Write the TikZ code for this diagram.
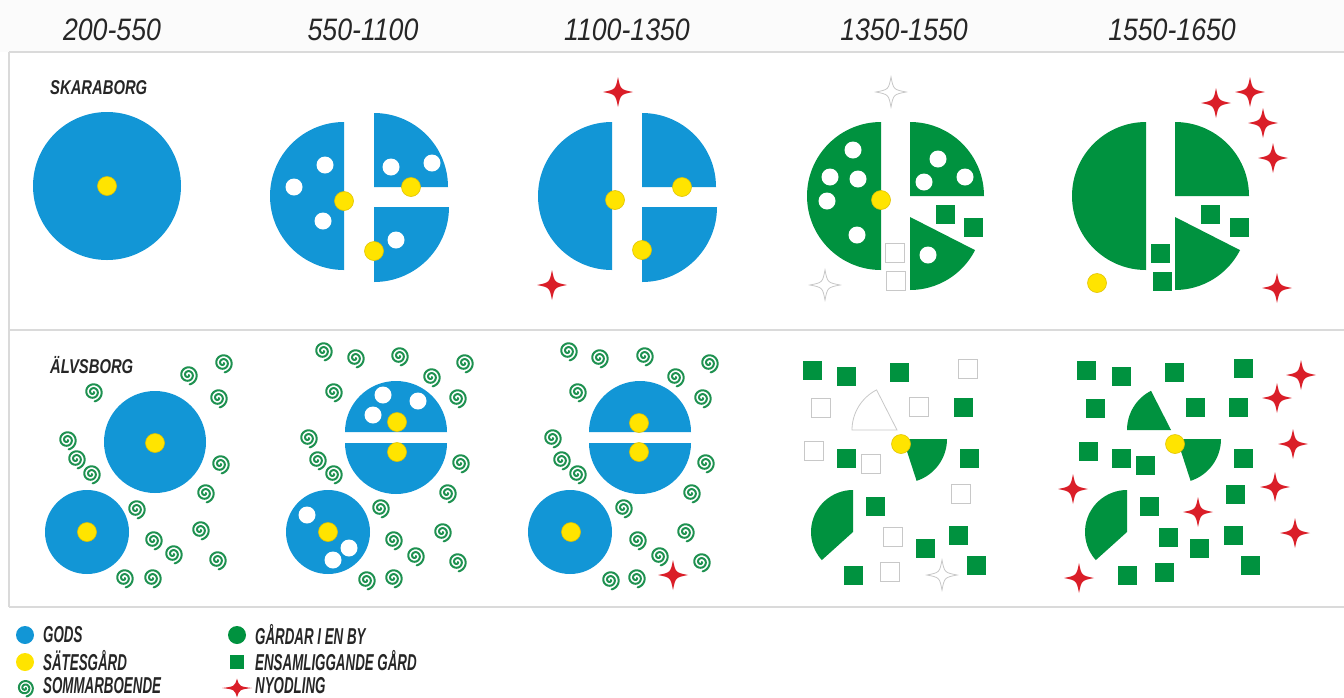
\documentclass[tikz,border=0pt]{standalone}
\usepackage{fontspec}
\setmainfont{Liberation Sans}
\newfontfamily\hdrfont[FakeStretch=0.86]{Liberation Sans}
\newfontfamily\labfont[FakeStretch=0.74]{Liberation Sans}
\newfontfamily\legfont[FakeStretch=0.58]{Liberation Sans}
\definecolor{blu}{RGB}{18,150,214}
\definecolor{yel}{RGB}{255,228,0}
\definecolor{yeld}{RGB}{225,195,0}
\definecolor{grn}{RGB}{0,146,63}
\definecolor{redst}{RGB}{218,30,40}
\definecolor{spg}{RGB}{30,145,80}
\definecolor{graylt}{RGB}{200,200,200}
\definecolor{frame}{RGB}{218,218,218}
\definecolor{txt}{RGB}{38,38,38}
\definecolor{hdrbg}{RGB}{251,251,251}
\begin{document}
\begin{tikzpicture}[x=1pt,y=-1pt,
  hdr/.style={text=txt,font=\hdrfont\itshape\fontsize{31}{31}\selectfont,inner sep=0pt},
  lab/.style={text=txt,font=\labfont\bfseries\itshape\fontsize{20}{20}\selectfont,inner sep=0pt,anchor=west},
  leg/.style={text=txt,font=\legfont\bfseries\itshape\fontsize{23}{23}\selectfont,inner sep=0pt,anchor=west},
  ydot/.style={fill=yel,draw=yeld,line width=0.6pt},
  wdot/.style={fill=white},
  spiral/.pic={\draw[draw=spg,line width=2pt,line cap=round] plot[domain=0:800,samples=70,smooth] ({(0.9+\x/800*8.6)*cos(\x)},{(0.9+\x/800*8.6)*sin(\x)});},
  star4/.pic={\path[pic actions] (0,-15) .. controls (2.5,-2.5) .. (15,0) .. controls (2.5,2.5) .. (0,15) .. controls (-2.5,2.5) .. (-15,0) .. controls (-2.5,-2.5) .. (0,-15) -- cycle;},
  sqf/.pic={\fill[grn] (-9.5,-9.5) rectangle (9.5,9.5);},
  sqo/.pic={\draw[graylt,line width=0.8pt] (-9.5,-9.5) rectangle (9.5,9.5);},
  rstar/.style={fill=redst},
  ostar/.style={draw=graylt,line width=0.8pt}
]
\useasboundingbox (0,0) rectangle (1344,697);
\fill[white] (0,0) rectangle (1344,697);
\fill[hdrbg] (0,0) rectangle (1344,52);
% frame lines
\draw[frame,line width=1.5pt] (9,52) -- (1344,52);
\draw[frame,line width=1.5pt] (9,52) -- (9,607);
\draw[frame,line width=1.5pt] (9,330) -- (1344,330);
\draw[frame,line width=1.5pt] (9,607) -- (1344,607);
% headers
\node[hdr] (h1) at (112,30) {200-550};
\node[hdr] (h2) at (363,30) {550-1100};
\node[hdr] (h3) at (627,30) {1100-1350};
\node[hdr] (h4) at (904,30) {1350-1550};
\node[hdr] (h5) at (1172,30) {1550-1650};
\node[lab] (sk) at (50,88) {SKARABORG};
\node[lab] (al) at (50,365) {ÄLVSBORG};

% ===== Row 1 =====
% panel 1
\fill[blu] (107,186) circle[radius=74];
\fill[ydot] (107,186) circle[radius=9.5];
% panel 2
\fill[blu] (344,122) arc[start angle=-90,end angle=-270,radius=74] -- cycle;
\fill[blu] (374,187) -- ++(74,0) arc[start angle=0,end angle=-90,radius=74] -- cycle;
\fill[blu] (374,207) -- ++(75,0) arc[start angle=0,end angle=90,radius=75] -- cycle;
\foreach \p in {(325,165),(294,187),(323,221),(391,167),(432,163),(396,240)}
  \fill[wdot] \p circle[radius=8.5];
\foreach \p in {(344,201),(411,187),(374,251)}
  \fill[ydot] \p circle[radius=9.5];
% panel 3
\fill[blu] (612,122) arc[start angle=-90,end angle=-270,radius=74] -- cycle;
\fill[blu] (642,187) -- ++(74,0) arc[start angle=0,end angle=-90,radius=74] -- cycle;
\fill[blu] (642,207) -- ++(75,0) arc[start angle=0,end angle=90,radius=75] -- cycle;
\foreach \p in {(615,200),(682,187),(642,250)}
  \fill[ydot] \p circle[radius=9.5];
\pic[rstar] at (618,92) {star4};
\pic[rstar] at (552,285) {star4};
% panel 4
\fill[grn] (881,122) arc[start angle=-90,end angle=-270,radius=74] -- cycle;
\fill[grn] (910,196) -- ++(74,0) arc[start angle=0,end angle=-90,radius=74] -- cycle;
\fill[grn] (910,217) -- ++(27:73) arc[start angle=27,end angle=90,radius=73] -- cycle;
\foreach \p in {(853,150),(830,177),(858,179),(827,201),(857,235),(938,159),(924,182),(965,177),(928,255)}
  \fill[wdot] \p circle[radius=8.5];
\fill[ydot] (881,200) circle[radius=9.5];
\pic at (945,214) {sqf};
\pic at (973,227) {sqf};
\pic at (895,253) {sqo};
\pic at (896,281) {sqo};
\pic[ostar] at (891,92) {star4};
\pic[ostar] at (825,285) {star4};
% panel 5
\fill[grn] (1146,122) arc[start angle=-90,end angle=-270,radius=74] -- cycle;
\fill[grn] (1175,196) -- ++(74,0) arc[start angle=0,end angle=-90,radius=74] -- cycle;
\fill[grn] (1175,217) -- ++(27:73) arc[start angle=27,end angle=90,radius=73] -- cycle;
\foreach \p in {(1210,214),(1239,227),(1160,253),(1162,281)}
  \pic at \p {sqf};
\fill[ydot] (1097,283) circle[radius=9.5];
\foreach \p in {(1216,103),(1250,92),(1263,123),(1273,158),(1277,288)}
  \pic[rstar] at \p {star4};

% ===== Row 2 =====
% panel 1
\fill[blu] (155,442) circle[radius=51];
\fill[ydot] (155,443) circle[radius=9.5];
\fill[blu] (87,532) circle[radius=42];
\fill[ydot] (87,532) circle[radius=9.5];
\foreach \p in {(223,363),(188,375),(218,398),(93,392),(67,440),(76,459),(91,474),(220,464),(205,493),(136,509),(200,530),(153,540),(173,554),(217,560),(124,578),(152,578)}
  \pic at \p {spiral};
% panel 2
\fill[blu] (345,432) arc[start angle=180,end angle=360,radius=51] -- cycle;
\fill[blu] (345,443) arc[start angle=180,end angle=0,radius=51] -- cycle;
\foreach \p in {(383,395),(418,401),(373,415)}
  \fill[wdot] \p circle[radius=8.5];
\foreach \p in {(397,422),(397,452)}
  \fill[ydot] \p circle[radius=9.5];
\fill[blu] (328,532) circle[radius=42];
\foreach \p in {(307,515),(349,548),(333,560)}
  \fill[wdot] \p circle[radius=8.5];
\fill[ydot] (328,532) circle[radius=9.5];
\foreach \p in {(323,351),(355,358),(399,356),(464,363),(431,377),(333,392),(457,398),(308,438),(317,460),(333,474),(460,463),(447,493),(380,508),(442,532),(393,540),(415,556),(457,562),(366,580),(393,578)}
  \pic at \p {spiral};
% panel 3
\fill[blu] (589,432) arc[start angle=180,end angle=360,radius=51] -- cycle;
\fill[blu] (589,443) arc[start angle=180,end angle=0,radius=51] -- cycle;
\foreach \p in {(639,423),(639,452)}
  \fill[ydot] \p circle[radius=9.5];
\fill[blu] (570,532) circle[radius=42];
\fill[ydot] (571,532) circle[radius=9.5];
\foreach \p in {(568,351),(599,358),(644,356),(709,363),(675,377),(577,392),(702,398),(552,438),(561,460),(577,474),(705,463),(691,493),(623,508),(685,532),(637,540),(659,556),(701,562),(610,580),(636,578)}
  \pic at \p {spiral};
\pic[rstar] at (673,575) {star4};
% panel 4
\draw[graylt,line width=0.8pt] (897,430) -- ++(180:45) arc[start angle=180,end angle=243,radius=45] -- cycle;
\fill[grn] (903,439) -- ++(0:44) arc[start angle=0,end angle=72,radius=44] -- cycle;
\fill[grn] (853,532) -- ++(138:42) arc[start angle=138,end angle=270,radius=42] -- cycle;
\foreach \p in {(812,370),(846,376),(899,372),(963,407),(846,458),(969,458),(875,506),(958,535),(925,548),(976,565),(853,575)}
  \pic at \p {sqf};
\foreach \p in {(968,369),(821,408),(919,407),(814,451),(871,464),(961,494),(893,537),(890,572)}
  \pic at \p {sqo};
\fill[ydot] (901,444) circle[radius=9.5];
\pic[ostar] at (942,575) {star4};
% panel 5
\fill[grn] (1171,430) -- ++(180:44) arc[start angle=180,end angle=243,radius=44] -- cycle;
\fill[grn] (1177,439) -- ++(0:44) arc[start angle=0,end angle=72,radius=44] -- cycle;
\fill[grn] (1127,532) -- ++(138:42) arc[start angle=138,end angle=270,radius=42] -- cycle;
\foreach \p in {(1086,370),(1121,376),(1174,372),(1243,368),(1095,408),(1195,407),(1238,407),(1088,451),(1121,458),(1145,465),(1243,458),(1235,494),(1149,506),(1168,537),(1233,535),(1199,548),(1250,565),(1127,575),(1164,572)}
  \pic at \p {sqf};
\fill[ydot] (1175,444) circle[radius=9.5];
\foreach \p in {(1301,375),(1277,398),(1293,444),(1275,487),(1073,489),(1198,512),(1295,533),(1079,578)}
  \pic[rstar] at \p {star4};

% ===== Legend =====
\fill[blu] (25,635) circle[radius=9];
\node[leg] (lg1) at (43,635) {GODS};
\fill[yel] (25,662) circle[radius=9];
\node[leg] (lg2) at (43,661) {SÄTESGÅRD};
\pic[scale=0.9] at (25,688) {spiral};
\node[leg] (lg3) at (43,686) {SOMMARBOENDE};
\fill[grn] (237,635) circle[radius=9];
\node[leg] (lg4) at (255,635) {GÅRDAR I EN BY};
\fill[grn] (230,655) rectangle (244,669);
\node[leg] (lg5) at (255,661) {ENSAMLIGGANDE GÅRD};
\pic[rstar,yscale=0.62] at (237,688) {star4};
\node[leg] (lg6) at (255,686) {NYODLING};
\end{tikzpicture}
\end{document}
